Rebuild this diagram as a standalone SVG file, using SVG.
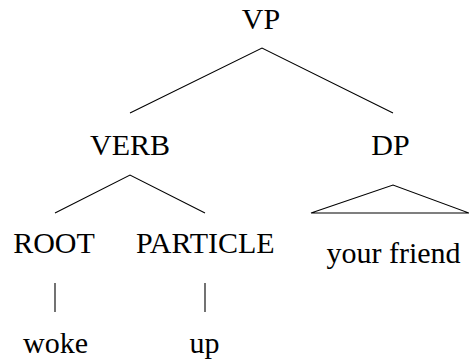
<svg xmlns="http://www.w3.org/2000/svg" width="469" height="362" viewBox="0 0 469 362">
<defs>
<style>
.e{stroke:#000;stroke-width:1.1;fill:none}
</style>
</defs>
<rect width="469" height="362" fill="#fff"/>
<g font-family="Liberation Serif" font-size="30" text-anchor="middle">
<g id="VP"><text x="261" y="29">VP</text></g>
<g id="VERB"><text x="130" y="154.5">VERB</text></g>
<g id="DP"><text x="390.5" y="154.5">DP</text></g>
<g id="ROOT"><text x="54" y="252.5">ROOT</text></g>
<g id="PARTICLE"><text x="205.3" y="252.5">PARTICLE</text></g>
<g id="yourfriend"><text x="393.5" y="263">your friend</text></g>
<g id="woke"><text x="55.5" y="352.5">woke</text></g>
<g id="up"><text x="204.5" y="352.5">up</text></g>
</g>
<g id="edges">
<path class="e" d="M130,113 L262,48 L393,113"/>
<path class="e" d="M55,213 L130,175 L205,213"/>
<path class="e" d="M311,213 L393,185 L469,213 Z"/>
<path class="e" d="M55,283 V312 M205,283 V312"/>
</g>
</svg>
